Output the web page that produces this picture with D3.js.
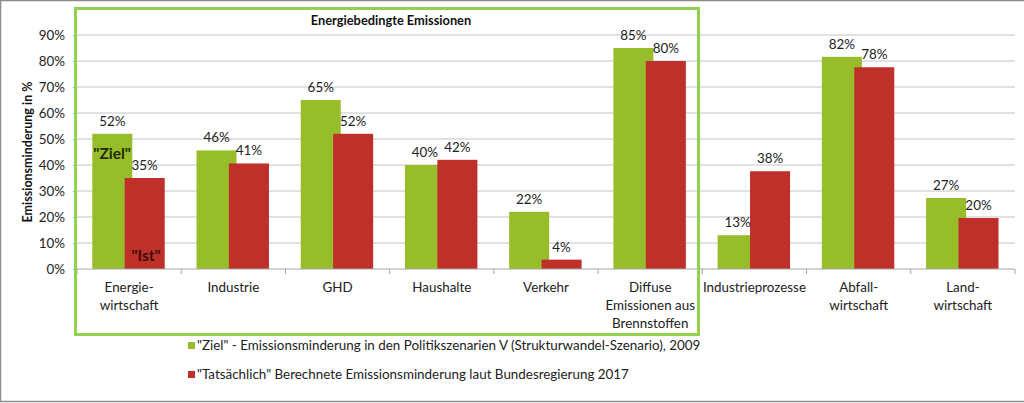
<!DOCTYPE html>
<html><head><meta charset="utf-8">
<script src="https://cdn.jsdelivr.net/npm/d3@7"></script>
<style>body{margin:0;background:#fff}svg{display:block;font-family:Lato,"Open Sans",sans-serif}</style>
</head><body><svg id="c" width="1024" height="403"></svg>
<script>
const categories = [["Energie-","wirtschaft"],["Industrie"],["GHD"],["Haushalte"],["Verkehr"],["Diffuse","Emissionen aus","Brennstoffen"],["Industrieprozesse"],["Abfall-","wirtschaft"],["Land-","wirtschaft"]];
const zielValues = [0.52,0.456,0.65,0.40,0.22,0.85,0.13,0.816,0.273];
const istValues  = [0.35,0.406,0.52,0.42,0.036,0.80,0.376,0.776,0.196];
const yTicks = [0,0.1,0.2,0.3,0.4,0.5,0.6,0.7,0.8,0.9];
const seriesNames = ["\"Ziel\" - Emissionsminderung in den Politikszenarien V (Strukturwandel-Szenario), 2009","\"Tatsächlich\" Berechnete Emissionsminderung laut Bundesregierung 2017"];
const boxTitle = "Energiebedingte Emissionen";
const yTitle = "Emissionsminderung in %";

const GREEN="#97bd2b", RED="#c0302b";
const FS=13.4;
const svg=d3.select("#c");
// outer frame
svg.append("rect").attr("x",0.5).attr("y",0.5).attr("width",1030).attr("height",401).attr("fill","none").attr("stroke","#8c8c8c").attr("stroke-width",1.5);

const L=77,R=1015,T=35,B=269;
const x=d3.scaleBand().domain(d3.range(categories.length)).range([L,R]).paddingInner(0).paddingOuter(0);
const y=d3.scaleLinear().domain([0,0.9]).range([B,T]);

// gridlines
svg.append("g").selectAll("line").data(yTicks.slice(1)).join("line")
 .attr("x1",L).attr("x2",R).attr("y1",d=>y(d)).attr("y2",d=>y(d)).attr("stroke","#c4c4c4").attr("stroke-width",1);

// y axis labels
const yAxis=d3.axisLeft(y).tickValues(yTicks).tickFormat(d3.format(".0%")).tickSize(4).tickPadding(8);
const ga=svg.append("g").attr("transform",`translate(${L},0)`).call(yAxis);
ga.select(".domain").remove();
ga.selectAll("line").attr("stroke","#aaa");
ga.selectAll("text").attr("font-size",FS).attr("fill","#222").style("font-family","Lato,sans-serif");

// bars
const bw = x.bandwidth()*0.384, ov = bw*0.19;
const groupW = 2*bw-ov;
const g=svg.append("g");
categories.forEach((c,i)=>{
  const x0 = x(i)+(x.bandwidth()-groupW)/2 - 0.6;
  g.append("rect").attr("x",x0).attr("y",y(zielValues[i])).attr("width",bw).attr("height",B-y(zielValues[i])).attr("fill",GREEN);
  g.append("rect").attr("x",x0+bw-ov).attr("y",y(istValues[i])).attr("width",bw).attr("height",B-y(istValues[i])).attr("fill",RED);
  g.append("text").attr("x",x0+bw/2).attr("y",y(zielValues[i])-8).attr("text-anchor","middle").attr("font-size",FS).attr("fill","#222").text(d3.format(".0%")(zielValues[i]));
  g.append("text").attr("x",x0+bw-ov+bw/2).attr("y",y(istValues[i])-8).attr("text-anchor","middle").attr("font-size",FS).attr("fill","#222").text(d3.format(".0%")(istValues[i]));
});

// x axis
const xa=svg.append("g").attr("transform",`translate(0,${B})`);
xa.append("line").attr("x1",L).attr("x2",R).attr("stroke","#a6a6a6");
xa.selectAll(".tk").data(d3.range(categories.length+1)).join("line")
 .attr("x1",i=>L+i*x.bandwidth()).attr("x2",i=>L+i*x.bandwidth()).attr("y1",0).attr("y2",5).attr("stroke","#a6a6a6");
categories.forEach((c,i)=>{
  const t=xa.append("text").attr("text-anchor","middle").attr("font-size",FS).attr("fill","#222");
  c.forEach((ln,k)=>t.append("tspan").attr("x",x(i)+x.bandwidth()/2).attr("y",23+k*18).text(ln));
});

// annotations
svg.append("text").attr("x",x(0)+x.bandwidth()/2-17).attr("y",159).attr("text-anchor","middle").attr("font-size",15.5).attr("font-weight","bold").attr("fill","#1e2a08").text("\"Ziel\"");
svg.append("text").attr("x",x(0)+x.bandwidth()/2+17).attr("y",261).attr("text-anchor","middle").attr("font-size",15.5).attr("font-weight","bold").attr("fill","#3b0d08").text("\"Ist\"");

// green box
svg.append("rect").attr("x",75.5).attr("y",8.5).attr("width",623).attr("height",326).attr("fill","none").attr("stroke","#92d050").attr("stroke-width",3);
svg.append("text").attr("x",391).attr("y",25).attr("text-anchor","middle").attr("font-size",12.8).attr("font-weight","bold").attr("fill","#111").text(boxTitle);

// y title
svg.append("text").attr("transform","translate(32,152) rotate(-90)").attr("text-anchor","middle").attr("font-size",12.5).attr("font-weight","bold").attr("fill","#111").text(yTitle);

// legend
const lg=svg.append("g");
[GREEN,RED].forEach((col,i)=>{
  const yy=350+i*29;
  lg.append("rect").attr("x",188).attr("y",yy-8).attr("width",7).attr("height",7).attr("fill",col);
  lg.append("text").attr("x",197).attr("y",yy).attr("font-size",FS).attr("fill","#222").text(seriesNames[i]);
});
</script></body></html>
